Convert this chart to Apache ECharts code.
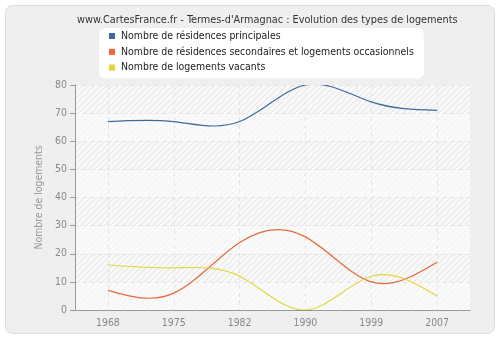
<!DOCTYPE html>
<html>
<head>
<meta charset="utf-8">
<script src="https://cdn.jsdelivr.net/npm/echarts@6/dist/echarts.min.js"></script>
<style>
  html, body { margin: 0; padding: 0; background: #ffffff; }
  #chart { width: 500px; height: 340px; }
</style>
</head>
<body>
<div id="chart"></div>
<script>
// Census years (evenly spaced categories)
const years = ['1968', '1975', '1982', '1990', '1999', '2007'];

// Housing counts per census
const principales = [67, 67, 67, 80, 74, 71];
const secondaires = [7, 6, 24, 26, 10, 17];
const vacants = [16, 15, 12, 0, 12, 5];

const seriesNames = [
  'Nombre de résidences principales',
  'Nombre de résidences secondaires et logements occasionnels',
  'Nombre de logements vacants'
];
const seriesValues = [principales, secondaires, vacants];
const seriesColors = ['#3d6aa1', '#e8683a', '#e3d63a'];

const yTicks = { min: 0, max: 80, step: 10 };

// Diagonal hatch tile used for the plot background bands
function hatch(bg, line) {
  const c = document.createElement('canvas');
  c.width = 6; c.height = 6;
  const g = c.getContext('2d');
  g.fillStyle = bg;
  g.fillRect(0, 0, 6, 6);
  g.strokeStyle = line;
  g.lineWidth = 1;
  g.beginPath();
  g.moveTo(-1, 7); g.lineTo(7, -1);
  g.moveTo(-1, 1); g.lineTo(1, -1);
  g.moveTo(5, 7); g.lineTo(7, 5);
  g.stroke();
  return { image: c, repeat: 'repeat' };
}

// Natural cubic spline through pixel points, returned as bezier path segments
function splinePath(pts) {
  const n = pts.length - 1;
  const h = pts[1][0] - pts[0][0];
  const M = new Array(n + 1).fill(0);
  if (n >= 2) {
    // Thomas algorithm for M[i-1] + 4M[i] + M[i+1] = 6(y[i+1]-2y[i]+y[i-1])/h^2
    const c = [], d = [];
    for (let i = 1; i < n; i++) {
      const rhs = 6 * (pts[i + 1][1] - 2 * pts[i][1] + pts[i - 1][1]) / (h * h);
      if (i === 1) { c[i] = 1 / 4; d[i] = rhs / 4; }
      else {
        const m = 4 - c[i - 1];
        c[i] = 1 / m;
        d[i] = (rhs - d[i - 1]) / m;
      }
    }
    M[n - 1] = d[n - 1];
    for (let i = n - 2; i >= 1; i--) M[i] = d[i] - c[i] * M[i + 1];
  }
  const D = [];
  for (let i = 0; i < n; i++) {
    D[i] = (pts[i + 1][1] - pts[i][1]) / h - h * (2 * M[i] + M[i + 1]) / 6;
  }
  D[n] = (pts[n][1] - pts[n - 1][1]) / h + h * (M[n - 1] + 2 * M[n]) / 6;
  let p = 'M' + pts[0][0] + ' ' + pts[0][1];
  for (let i = 0; i < n; i++) {
    const x0 = pts[i][0], y0 = pts[i][1], x1 = pts[i + 1][0], y1 = pts[i + 1][1];
    p += ' C' + (x0 + h / 3) + ' ' + (y0 + D[i] * h / 3) + ' ' +
         (x1 - h / 3) + ' ' + (y1 - D[i + 1] * h / 3) + ' ' + x1 + ' ' + y1;
  }
  return p;
}

function curveRenderer(values, color) {
  return function (params, api) {
    if (params.dataIndex !== 0) return null;
    const pts = values.map((v, i) => api.coord([i, v]));
    return {
      type: 'path',
      shape: { pathData: splinePath(pts) },
      style: { fill: null, stroke: color, lineWidth: 1.2 },
      silent: true
    };
  };
}

const font = 'DejaVu Sans Condensed, DejaVu Sans';
const chart = echarts.init(document.getElementById('chart'), null, { renderer: 'canvas' });

chart.setOption({
  backgroundColor: '#ffffff',
  animation: false,
  graphic: [{
    type: 'rect',
    z: -10,
    silent: true,
    shape: { x: 5.5, y: 5.5, width: 489, height: 328, r: 7 },
    style: { fill: '#efefef', stroke: '#dcdcdc', lineWidth: 1 }
  }],
  title: {
    text: 'www.CartesFrance.fr - Termes-d\'Armagnac : Evolution des types de logements',
    left: 72,
    top: 10,
    textStyle: { fontFamily: font, fontSize: 10.8, fontWeight: 'normal', color: '#333333' }
  },
  legend: {
    orient: 'vertical',
    left: 99,
    top: 28,
    padding: [3, 10, 6, 10],
    backgroundColor: '#ffffff',
    borderRadius: 6,
    itemGap: 5.8,
    itemWidth: 6,
    itemHeight: 6,
    icon: 'rect',
    data: seriesNames,
    textStyle: { fontFamily: font, fontSize: 10.45, color: '#222222', padding: [0, 0, 0, 1] }
  },
  grid: { left: 75, top: 85, right: 30, bottom: 30 },
  xAxis: {
    type: 'category',
    data: years,
    boundaryGap: true,
    axisLine: { lineStyle: { color: '#999999' } },
    axisTick: { alignWithLabel: true, length: 5, lineStyle: { color: '#999999' } },
    axisLabel: { fontFamily: font, fontSize: 10.4, color: '#888888', margin: 8 },
    splitLine: {
      show: true,
      alignWithLabel: true,
      lineStyle: { color: '#e2e2e2', type: [4, 4] }
    }
  },
  yAxis: {
    type: 'value',
    min: yTicks.min,
    max: yTicks.max,
    interval: yTicks.step,
    name: 'Nombre de logements',
    nameLocation: 'middle',
    nameGap: 24,
    nameTextStyle: { fontFamily: font, fontSize: 10.4, color: '#999999' },
    axisLine: { show: true, lineStyle: { color: '#999999' } },
    axisTick: { show: true, length: 5, lineStyle: { color: '#999999' } },
    axisLabel: { fontFamily: font, fontSize: 10.4, color: '#888888', margin: 8 },
    splitLine: { lineStyle: { color: '#e4e4e4', type: [4, 4] } },
    splitArea: {
      show: true,
      areaStyle: { color: [hatch('#fafafa', '#f1f1f1'), hatch('#f8f8f8', '#e4e4e4')] }
    }
  },
  series: seriesNames.map((name, i) => ({
    type: 'custom',
    name: name,
    data: seriesValues[i].map((v, k) => [k, v]),
    encode: { x: 0, y: 1 },
    clip: true,
    color: seriesColors[i],
    itemStyle: { color: seriesColors[i] },
    renderItem: curveRenderer(seriesValues[i], seriesColors[i])
  }))
});
</script>
</body>
</html>
